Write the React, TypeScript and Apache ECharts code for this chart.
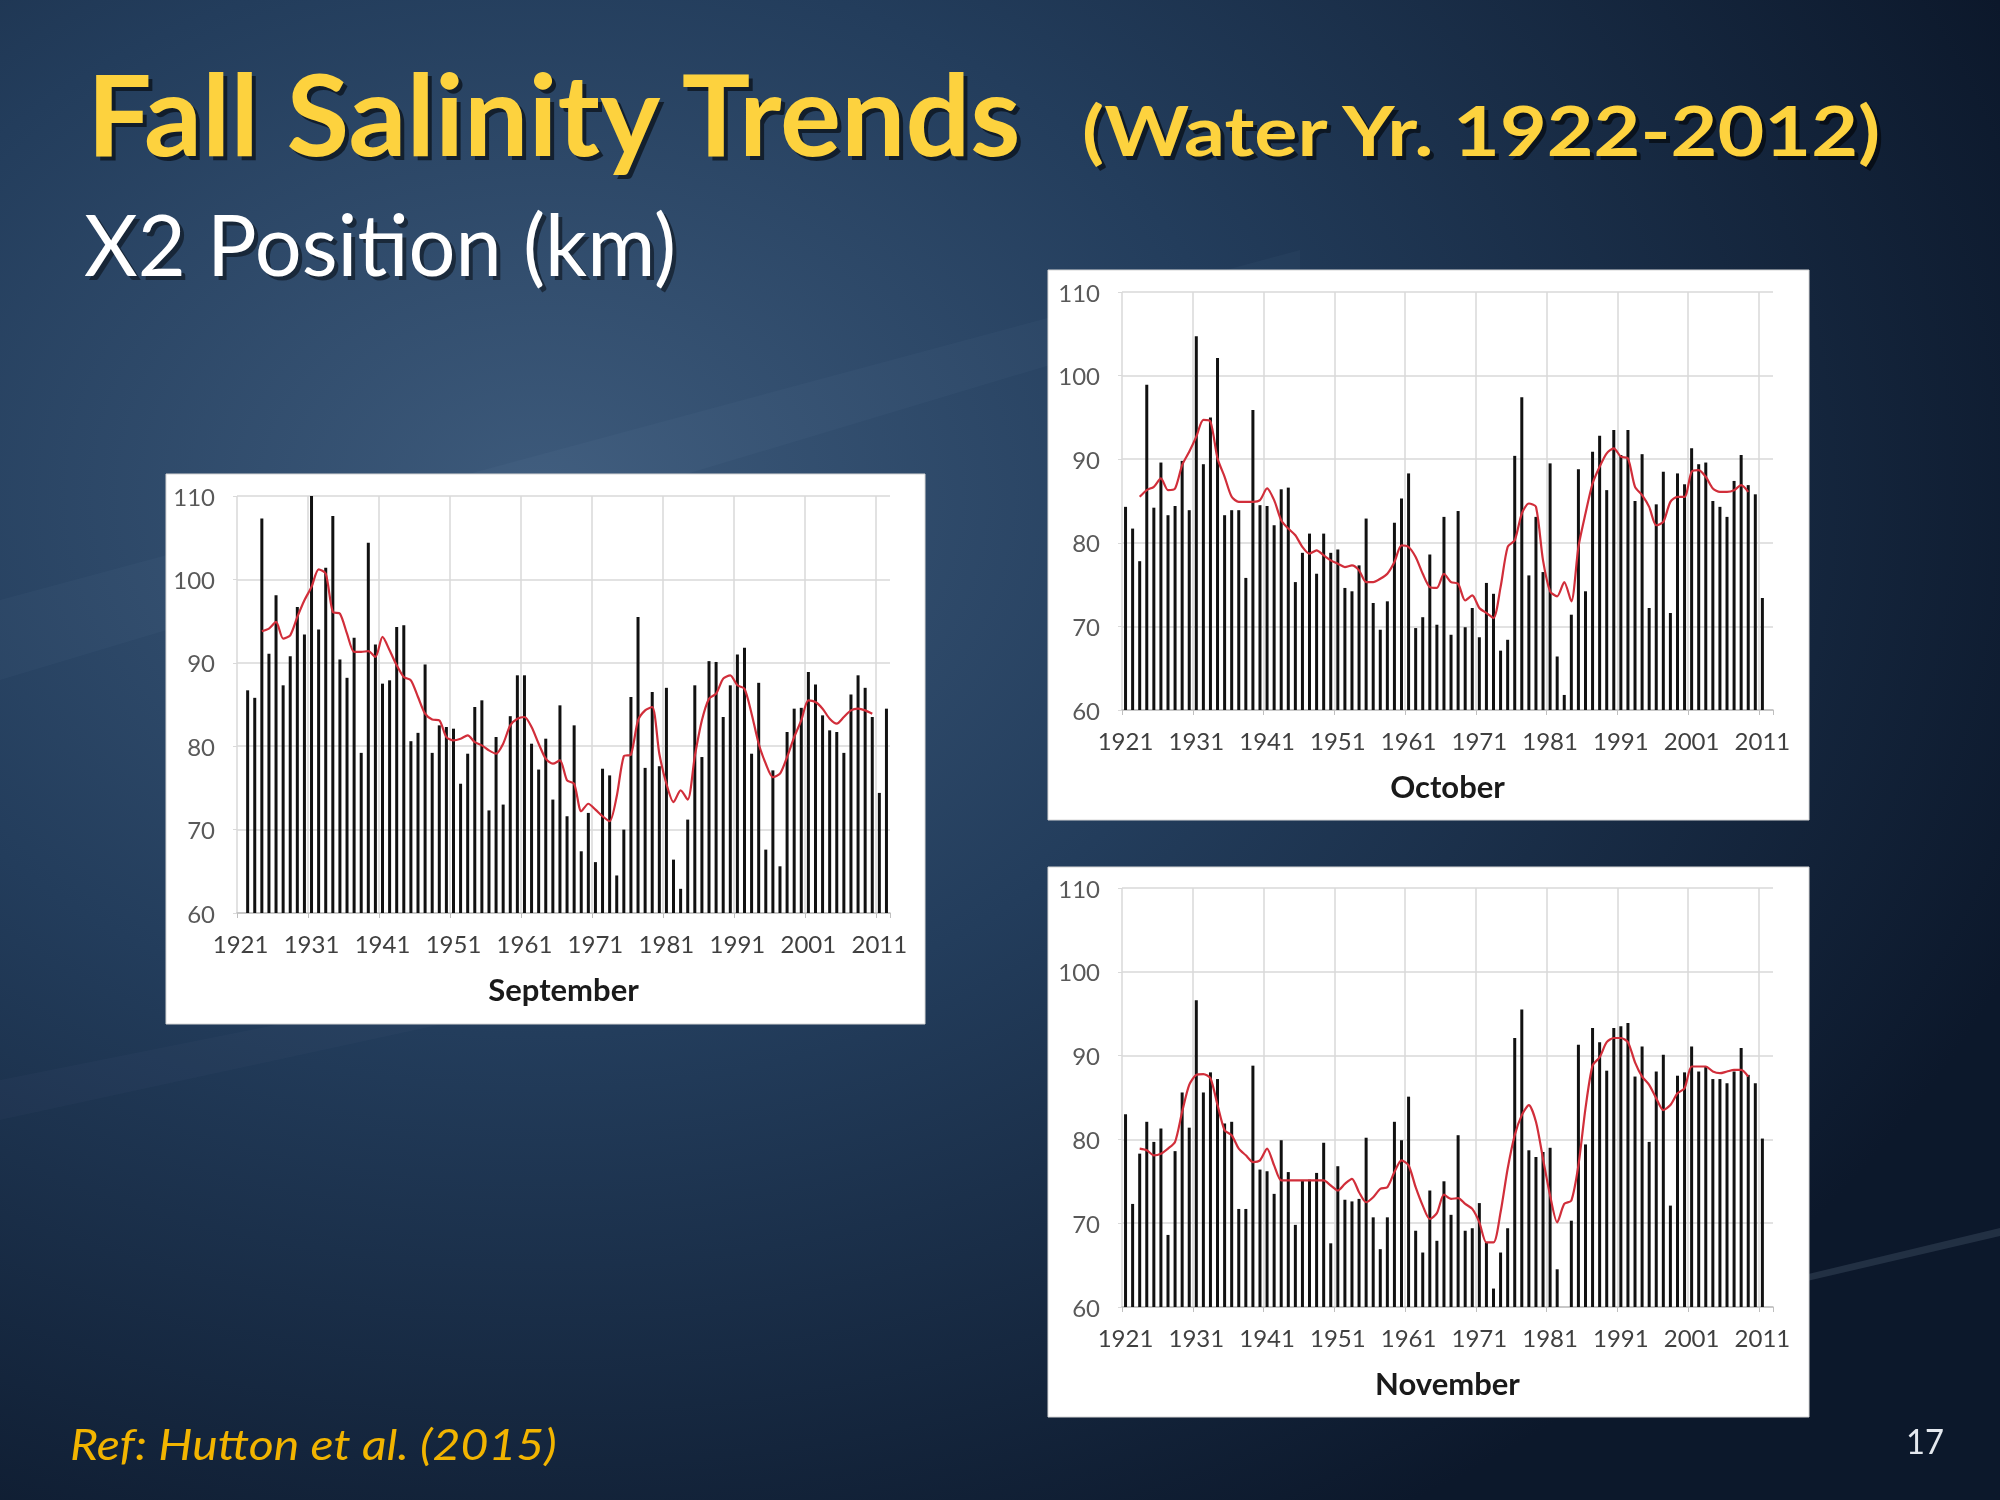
import React, { useEffect, useRef } from 'react';
import * as echarts from 'echarts';

// calendar years on the x axis (Oct/Nov of water year N fall in year N-1)
const FIRST_YEAR = 1921;
const LAST_YEAR = 2012;
const years: string[] = [];
for (let y = FIRST_YEAR; y <= LAST_YEAR; y++) years.push(String(y));

const yTicks = { min: 60, max: 110, step: 10 };

// X2 position (km), water years 1922-2012
const sepX2 = [
  86.7, 85.8, 107.3, 91.1, 98.1, 87.3, 90.8, 96.7, 93.4, 110.0,
  94.0, 101.4, 107.6, 90.4, 88.2, 93.0, 79.2, 104.4, 92.2, 87.5,
  87.9, 94.3, 94.5, 80.6, 81.6, 89.8, 79.2, 82.5, 82.3, 82.1,
  75.5, 79.1, 84.7, 85.5, 72.3, 81.1, 73.0, 83.6, 88.5, 88.5,
  80.3, 77.2, 80.9, 73.6, 84.9, 71.6, 82.5, 67.4, 72.0, 66.1,
  77.3, 76.5, 64.5, 70.0, 85.9, 95.5, 77.4, 86.5, 77.6, 87.0,
  66.4, 62.9, 71.2, 87.3, 78.7, 90.2, 90.1, 83.5, 87.3, 91.0,
  91.8, 79.1, 87.6, 67.6, 77.1, 65.6, 81.7, 84.5, 84.6, 88.9,
  87.4, 83.7, 81.9, 81.7, 79.2, 86.2, 88.5, 87.0, 83.5, 74.4,
  84.5,
];

// red trend line, water years 1924-2010
const sepAvg = [
  93.8, 94.1, 94.9, 92.9, 93.3, 95.5, 97.5, 99.1,
  101.2, 100.7, 96.1, 95.9, 93.5, 91.3, 91.3, 91.4, 90.7, 93.1,
  91.5, 89.7, 88.3, 87.9, 85.9, 83.9, 83.2, 83.1, 81.1, 80.7,
  80.9, 81.3, 80.5, 80.1, 79.5, 79.1, 80.3, 82.5, 83.3, 83.5,
  82.3, 80.3, 78.5, 77.9, 78.3, 75.9, 75.5, 72.2, 73.1, 72.4,
  71.6, 71.0, 74.0, 78.8, 79.0, 83.1, 84.3, 84.7, 79.1, 75.5,
  73.3, 74.7, 73.6, 78.8, 83.1, 85.7, 86.3, 88.1, 88.5, 87.3,
  86.9, 83.9, 80.3, 77.9, 76.3, 76.7, 78.7, 81.1, 83.1, 85.5,
  85.3, 84.5, 83.3, 82.7, 83.5, 84.3, 84.5, 84.3, 83.9,
];

const octX2 = [
  84.3, 81.7, 77.8, 98.9, 84.2, 89.6, 83.3, 84.4, 89.8, 83.9,
  104.7, 89.4, 95.0, 102.1, 83.3, 83.9, 83.9, 75.8, 95.9, 84.5,
  84.4, 82.1, 86.4, 86.6, 75.3, 78.8, 81.1, 76.3, 81.1, 78.8,
  79.2, 74.6, 74.2, 77.3, 82.9, 72.8, 69.6, 73.0, 82.4, 85.3,
  88.3, 69.8, 71.1, 78.6, 70.2, 83.1, 69.0, 83.8, 69.9, 72.2,
  68.7, 75.2, 73.9, 67.1, 68.4, 90.4, 97.4, 76.1, 83.1, 76.5,
  89.5, 66.4, 61.8, 71.4, 88.8, 74.2, 90.9, 92.8, 86.3, 93.5,
  90.5, 93.5, 85.0, 90.6, 72.2, 84.6, 88.5, 71.6, 88.3, 87.0,
  91.3, 89.4, 89.6, 85.0, 84.3, 83.1, 87.4, 90.5, 86.9, 85.8,
  73.4,
];

const octAvg = [
  85.5, 86.3, 86.7, 87.7, 86.3, 86.5, 89.3, 90.9,
  92.7, 94.7, 94.5, 90.1, 87.9, 85.5, 84.9, 84.9, 84.9, 85.1,
  86.5, 85.1, 82.7, 81.7, 80.9, 79.5, 78.7, 79.1, 78.5, 77.9,
  77.5, 77.1, 77.3, 76.7, 75.3, 75.3, 75.7, 76.3, 77.7, 79.7,
  79.5, 78.3, 76.3, 74.7, 74.6, 76.3, 75.3, 75.1, 73.1, 73.7,
  72.2, 71.6, 71.0, 74.7, 79.5, 80.3, 83.5, 84.7, 84.3, 77.9,
  74.2, 73.6, 75.3, 73.0, 79.5, 83.5, 87.1, 89.1, 90.7, 91.3,
  90.3, 90.1, 86.7, 85.7, 84.3, 82.1, 82.5, 84.9, 85.5, 85.5,
  88.5, 88.7, 87.9, 86.5, 86.1, 86.1, 86.3, 86.9, 86.1,
];

const novX2 = [
  83.0, 72.3, 78.3, 82.1, 79.7, 81.3, 68.6, 78.6, 85.6, 81.4,
  96.6, 85.6, 88.0, 87.2, 81.9, 82.1, 71.7, 71.7, 88.8, 76.4,
  76.2, 73.5, 79.9, 76.1, 69.8, 75.1, 75.2, 76.0, 79.6, 67.6,
  76.8, 72.8, 72.6, 72.9, 80.2, 70.7, 66.9, 70.7, 82.1, 79.9,
  85.1, 69.1, 66.5, 73.9, 67.9, 75.0, 71.0, 80.5, 69.1, 69.4,
  72.4, 67.7, 62.2, 66.5, 69.4, 92.1, 95.5, 78.7, 77.9, 78.5,
  79.0, 64.5, null, 70.3, 91.3, 79.4, 93.3, 91.6, 88.2, 93.3,
  93.5, 93.9, 87.5, 91.1, 79.7, 88.1, 90.1, 72.1, 87.6, 88.0,
  91.1, 88.1, 88.7, 87.2, 87.2, 86.7, 88.1, 90.9, 87.7, 86.7,
  80.1,
];

const novAvg = [
  78.9, 78.7, 78.1, 78.3, 78.9, 79.7, 83.3, 86.5,
  87.7, 87.8, 87.3, 84.1, 81.1, 80.5, 78.9, 78.1, 77.3, 77.5,
  78.9, 76.9, 75.1, 75.1, 75.1, 75.1, 75.1, 75.1, 75.1, 74.5,
  73.9, 74.7, 75.3, 73.7, 72.5, 73.1, 74.1, 74.3, 76.1, 77.5,
  76.9, 74.3, 72.1, 70.5, 71.2, 73.4, 72.9, 73.0, 72.3, 71.7,
  70.1, 67.7, 67.7, 71.3, 76.5, 80.5, 82.9, 84.1, 82.1, 77.7,
  73.3, 70.1, 72.3, 72.7, 76.9, 83.7, 88.8, 89.8, 91.6, 92.1,
  92.1, 91.6, 89.2, 87.5, 86.5, 84.9, 83.5, 84.1, 85.5, 86.1,
  88.7, 88.7, 88.7, 88.1, 87.9, 88.1, 88.3, 88.3, 87.5,
];

// put a list on the year axis starting at a given category index
const place = (values: (number | null)[], start: number) => {
  const out: (number | null)[] = years.map(() => null);
  values.forEach((v, i) => {
    if (start + i < out.length) out[start + i] = v;
  });
  return out;
};

const every10 = (index: number) => index % 10 === 0;

const FONT = 'Lato, "Open Sans", "DejaVu Sans", sans-serif';

// width of a string, used to squeeze the Calibri-like slide text
const measure = (text: string, font: string) => {
  const ctx = document.createElement('canvas').getContext('2d');
  if (!ctx) return 1;
  ctx.font = font;
  return ctx.measureText(text).width || 1;
};

const slideText = (
  text: string,
  x: number,
  y: number,
  size: number,
  weight: string,
  style: string,
  width: number,
  fill: string,
  shadow: string | null
) => {
  const sx = width / measure(text, `${style} ${weight} ${size}px Lato`);
  const base = {
    text,
    fontSize: size,
    fontWeight: weight,
    fontStyle: style,
    fontFamily: FONT,
    align: 'left',
    verticalAlign: 'middle',
  };
  const els: any[] = [];
  if (shadow) {
    els.push({
      type: 'text', x: x + 4, y: y + 4, scaleX: sx, z: 9, silent: true,
      style: { ...base, fill: shadow },
    });
  }
  els.push({
    type: 'text', x, y, scaleX: sx, z: 10, silent: true,
    style: { ...base, fill },
  });
  return els;
};

const App: React.FC = () => {
  const chartRef = useRef<HTMLDivElement>(null);

  useEffect(() => {
    if (!chartRef.current) return;
    const chart = echarts.init(chartRef.current, null, { renderer: 'svg' });

    const panels = [
      { name: 'September', grid: { left: 237, top: 496, width: 653, height: 417 }, bars: sepX2, avg: sepAvg, shift: 1 },
      { name: 'October', grid: { left: 1122, top: 292, width: 651, height: 418 }, bars: octX2, avg: octAvg, shift: 0 },
      { name: 'November', grid: { left: 1122, top: 888, width: 651, height: 419 }, bars: novX2, avg: novAvg, shift: 0 },
    ];

    const background = new echarts.graphic.RadialGradient(0.27, 0.33, 0.8, [
      { offset: 0, color: '#3d5a7b' },
      { offset: 0.45, color: '#233d5c' },
      { offset: 1, color: '#0c182b' },
    ]);

    const streak = (pts: number[][], opacity: number) => ({
      type: 'polygon', z: -9, silent: true,
      shape: { points: pts },
      style: { fill: `rgba(200,220,245,${opacity})` },
    });

    const graphic: any[] = [
      {
        type: 'rect', z: -10, silent: true,
        shape: { x: 0, y: 0, width: 2000, height: 1500 },
        style: { fill: background },
      },
      streak([[0, 600], [1300, 250], [1300, 290], [0, 680]], 0.03),
      streak([[0, 1080], [900, 900], [900, 925], [0, 1120]], 0.025),
      streak([[1700, 1300], [2000, 1228], [2000, 1236], [1700, 1306]], 0.12),
      {
        type: 'rect', z: -8, silent: true,
        shape: { x: 166, y: 474, width: 759, height: 550 },
        style: { fill: '#ffffff', stroke: '#d6d6d6', lineWidth: 1 },
      },
      {
        type: 'rect', z: -8, silent: true,
        shape: { x: 1048, y: 270, width: 761, height: 550 },
        style: { fill: '#ffffff', stroke: '#d6d6d6', lineWidth: 1 },
      },
      {
        type: 'rect', z: -8, silent: true,
        shape: { x: 1048, y: 867, width: 761, height: 550 },
        style: { fill: '#ffffff', stroke: '#d6d6d6', lineWidth: 1 },
      },
      ...slideText('Fall Salinity Trends', 87, 112, 114, 'bold', 'normal', 940, '#fdd23e', 'rgba(0,0,0,0.55)'),
      ...slideText('(Water Yr. 1922-2012)', 1082, 130, 68, 'bold', 'normal', 803, '#fdd23e', 'rgba(0,0,0,0.55)'),
      ...slideText('X2 Position (km)', 84, 243, 86, 'normal', 'normal', 592, '#ffffff', 'rgba(0,0,0,0.45)'),
      ...slideText('Ref: Hutton et al. (2015)', 70, 1444, 42, 'normal', 'italic', 487, '#f2b400', null),
      ...slideText('17', 1906, 1441, 34, 'normal', 'normal', 38, '#e4e8ee', null),
    ];

    const option = {
      animation: false,
      graphic,
      grid: panels.map((p) => ({ ...p.grid })),
      xAxis: panels.map((p, k) => ({
        type: 'category',
        gridIndex: k,
        data: years,
        boundaryGap: true,
        axisLine: { show: true, lineStyle: { color: '#bfbfbf', width: 1.5 } },
        axisTick: { show: true, interval: every10, length: 5, lineStyle: { color: '#bfbfbf' } },
        axisLabel: { interval: every10, color: '#404040', fontSize: 24, fontFamily: FONT, margin: 18 },
        splitLine: { show: true, interval: every10, showMaxLine: false, lineStyle: { color: '#d9d9d9', width: 1.5 } },
        name: p.name,
        nameLocation: 'middle',
        nameGap: 60,
        nameTextStyle: { fontSize: 31, fontWeight: 'bold', color: '#1a1a1a', fontFamily: FONT },
      })),
      yAxis: panels.map((p, k) => ({
        type: 'value',
        gridIndex: k,
        min: yTicks.min,
        max: yTicks.max,
        interval: yTicks.step,
        axisLine: { show: false },
        axisTick: { show: true, length: 4, lineStyle: { color: '#d9d9d9' } },
        axisLabel: { color: '#595959', fontSize: 24, fontFamily: FONT, margin: 22 },
        splitLine: { show: true, lineStyle: { color: '#d9d9d9', width: 1.5 } },
      })),
      series: panels.flatMap((p, k) => [
        {
          type: 'bar',
          name: p.name,
          xAxisIndex: k,
          yAxisIndex: k,
          data: place(p.bars, p.shift),
          barWidth: 3,
          itemStyle: { color: '#111111' },
          silent: true,
        },
        {
          type: 'line',
          name: p.name + ' trend',
          xAxisIndex: k,
          yAxisIndex: k,
          data: place(p.avg, p.shift + 2),
          symbol: 'none',
          smooth: 0.25,
          connectNulls: false,
          lineStyle: { color: '#d12e3a', width: 2.2 },
          itemStyle: { color: '#d12e3a' },
          z: 3,
          silent: true,
        },
      ]),
    };

    chart.setOption(option);

    return () => {
      chart.dispose();
    };
  }, []);

  return (
    <div
      ref={chartRef}
      style={{ position: 'fixed', left: 0, top: 0, width: '2000px', height: '1500px' }}
    />
  );
};

export default App;
